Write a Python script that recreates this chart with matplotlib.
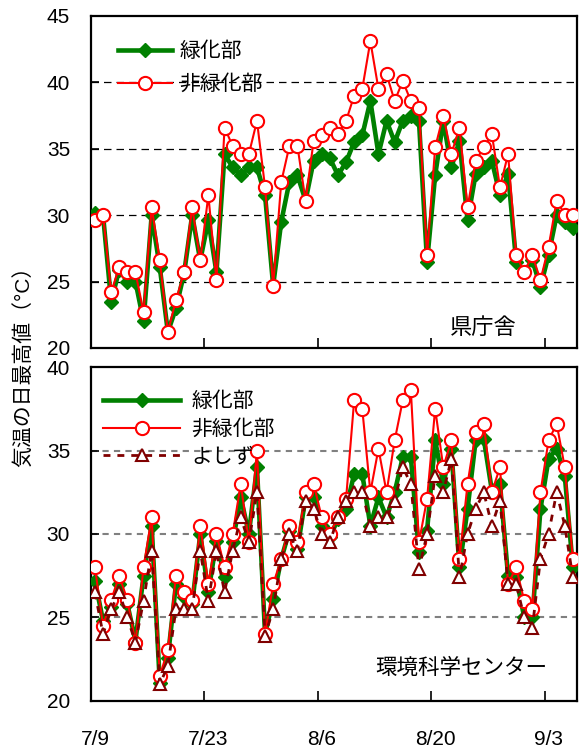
import numpy as np
import matplotlib
matplotlib.use("Agg")
import matplotlib.pyplot as plt

plt.rcParams['font.family'] = ['Liberation Sans', 'Noto Sans CJK JP']

# 7/9 から 9/6 までの日最高気温
tick_labels = ["7/9", "7/23", "8/6", "8/20", "9/3"]
n_days = 60

# 県庁舎
ken_green = [30.2, 30.0, 23.5, 25.9, 25.0, 25.0, 22.0, 30.0, 26.1, 21.2,
             23.0, 25.6, 30.0, 26.6, 29.6, 25.7, 34.6, 33.6, 33.0, 33.6,
             33.6, 31.5, 24.7, 29.5, 32.5, 33.0, 31.1, 34.1, 34.6, 34.3,
             33.0, 34.0, 35.5, 36.0, 38.6, 34.6, 37.1, 35.5, 37.1, 37.5,
             37.1, 26.5, 33.0, 37.1, 33.6, 35.6, 29.6, 33.1, 33.6, 34.1,
             31.5, 33.1, 26.5, 25.7, 26.6, 24.6, 27.0, 30.0, 29.5, 29.0]
ken_red = [29.6, 30.05, 24.2, 26.1, 25.7, 25.7, 22.7, 30.6, 26.6, 21.2,
           23.6, 25.7, 30.6, 26.6, 31.5, 25.1, 36.6, 35.2, 34.6, 34.6,
           37.1, 32.1, 24.7, 32.5, 35.2, 35.2, 31.1, 35.6, 36.0, 36.6,
           36.1, 37.1, 39.0, 39.5, 43.1, 39.5, 40.6, 38.6, 40.1, 38.6,
           38.1, 27.0, 35.1, 37.5, 34.6, 36.6, 30.6, 34.1, 35.1, 36.1,
           32.1, 34.6, 27.0, 25.7, 27.0, 25.1, 27.6, 31.1, 30.05, 30.05]

# 環境科学センター
cen_green = [27.2, 24.8, 25.6, 27.0, 25.8, 23.6, 27.5, 30.5, 21.1, 22.6,
             27.0, 26.2, 25.8, 30.0, 26.5, 29.6, 27.4, 29.5, 32.2, 30.0,
             34.0, 24.0, 26.1, 28.5, 30.2, 29.1, 32.2, 32.2, 30.5, 29.8,
             30.9, 31.5, 33.6, 33.6, 30.5, 32.2, 31.0, 32.5, 34.6, 34.6,
             28.9, 30.2, 35.6, 33.0, 35.1, 28.0, 31.5, 35.6, 35.7, 32.6,
             33.0, 27.5, 27.4, 25.0, 25.0, 31.5, 34.5, 35.1, 33.5, 28.0]
cen_red = [28.0, 24.5, 26.05, 27.5, 26.05, 23.5, 28.0, 31.0, 21.5, 23.05,
           27.5, 26.5, 26.05, 30.5, 27.0, 30.0, 28.0, 30.0, 33.0, 29.5,
           35.0, 24.0, 27.0, 28.5, 30.5, 29.5, 32.5, 33.0, 31.0, 30.0,
           31.0, 32.1, 38.0, 37.5, 32.5, 35.1, 32.5, 35.6, 38.0, 38.6,
           29.5, 32.1, 37.5, 34.0, 35.6, 28.5, 33.0, 36.1, 36.6, 32.5,
           34.0, 27.0, 28.0, 26.0, 25.5, 32.5, 35.6, 36.6, 34.0, 28.5]
cen_yoshizu = [26.5, 24.0, 25.5, 26.5, 25.0, 23.5, 26.0, 29.0, 21.0, 22.1,
               25.5, 25.5, 25.5, 29.0, 26.0, 29.0, 26.5, 29.0, 31.0, 29.5,
               32.5, 23.9, 25.5, 28.5, 30.0, 29.0, 32.0, 31.5, 30.0, 29.5,
               31.0, 32.0, 32.5, 32.5, 30.5, 31.0, 31.0, 32.0, 34.0, 33.0,
               27.9, 30.0, 33.5, 32.5, 34.5, 27.4, 30.0, 31.5, 32.5, 30.5,
               32.0, 27.0, 27.0, 25.0, 24.4, 28.5, 30.0, 32.5, 30.5, 27.4]

x = np.arange(n_days) + 0.5
green = '#008000'
red = '#ff0000'
maroon = '#800000'

fig = plt.figure(figsize=(5.79, 7.49), dpi=100)
ax1 = fig.add_axes([0.157, 0.5354, 0.8394, 0.4433])
ax2 = fig.add_axes([0.157, 0.0641, 0.8394, 0.4459])

#上段：県庁舎
ax1.plot(x, ken_green, color=green, lw=3.3, marker='D', ms=7, label='緑化部', zorder=3)
ax1.plot(x, ken_red, color=red, lw=1.5, marker='o', ms=9.5, mfc='white', mec=red,
         mew=1.5, label='非緑化部', zorder=4)
ax1.set_ylim(20, 45)
ax1.set_yticks([20, 25, 30, 35, 40, 45])
for v in [25, 30, 35, 40]:
    ax1.axhline(v, color='k', lw=0.9, ls=(0, (6, 4)), zorder=1)
ax1.legend(loc='upper left', bbox_to_anchor=(0.056, 0.923), frameon=False, fontsize=15,
           handlelength=2.6, handletextpad=0.35, labelspacing=0.64, borderpad=0,
           borderaxespad=0)
ax1.text(0.807, 0.06, '県庁舎', transform=ax1.transAxes, fontsize=16, ha='center', va='center')

#下段：環境科学センター
ax2.plot(x, cen_green, color=green, lw=3.3, marker='D', ms=7, label='緑化部', zorder=3)
ax2.plot(x, cen_red, color=red, lw=1.5, marker='o', ms=9.5, mfc='white', mec=red,
         mew=1.5, label='非緑化部', zorder=4)
ax2.plot(x, cen_yoshizu, color=maroon, lw=2, ls=(0, (2.5, 2.5)), marker='^', ms=9,
         mfc='white', mec=maroon, mew=1.5, label='よしず', zorder=5)
ax2.set_ylim(20, 40)
ax2.set_yticks([20, 25, 30, 35, 40])
for v in [25, 30, 35]:
    ax2.axhline(v, color='#808080', lw=1.5, ls=(0, (3, 2.5)), zorder=1)
ax2.legend(loc='upper left', bbox_to_anchor=(0.025, 0.926), frameon=False, fontsize=15,
           handlelength=3.7, handletextpad=0.55, labelspacing=0.39, borderpad=0,
           borderaxespad=0)
ax2.text(0.761, 0.099, '環境科学センター', transform=ax2.transAxes, fontsize=15.5,
         ha='center', va='center')

for ax in (ax1, ax2):
    ax.set_xlim(0, n_days)
    ax.set_xticks([0, 14, 28, 42, 56])
    ax.set_xticklabels([])
    ax.tick_params(axis='x', which='major', direction='in', length=7, width=1.2)
    ax.tick_params(axis='y', direction='in', length=6, width=1.2, labelsize=15, pad=15)
    for s in ax.spines.values():
        s.set_linewidth(1.6)

ax2.set_xticks([0.5, 14.5, 28.5, 42.5, 56.5], minor=True)
ax2.set_xticklabels(tick_labels, minor=True)
ax2.tick_params(axis='x', which='minor', length=0, labelsize=15, pad=21)

fig.text(0.04, 0.518, '気温の日最高値（°C）', rotation=90, fontsize=15,
         ha='center', va='center')

fig.savefig('out.png', dpi=100)
